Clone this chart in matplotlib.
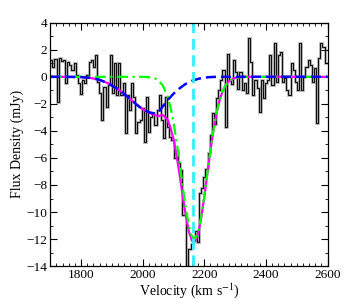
import numpy as np
import matplotlib
matplotlib.use('Agg')
import matplotlib.pyplot as plt
from matplotlib.ticker import MultipleLocator

plt.rcParams['font.family'] = 'Liberation Serif'
plt.rcParams['mathtext.fontset'] = 'stix'

# spectrum: channel flux (mJy), uniform channels starting at 1700 km/s
v_start = 1700.0
dv = 6.9
flux = [
    1.24, 0.75, 1.29, -1.88, 1.37, 1.17, 1.24, -0.43, 1.12, 0.87,
    0.50, 1.0, 0.13, -0.43, -1.3, -0.24, -0.48, 0.13, 1.12, 1.24,
    0.75, 1.61, -0.36, -1.22, -3.2, -0.73, -2.2, -0.6, 1.61, -1.22,
    1.0, -1.35, 1.0, -1.35, -0.48, -4.13, -1.35, -2.45, -0.48, -1.47,
    -4.18, -3.32, -3.2, -2.33, -4.8, -1.47, -4.06, -2.95, -2.7, -3.57,
    -2.45, -1.35, -3.2, -4.55, -1.47, -3.69, -4.43,
    -4.7, -6.0, -5.5, -6.4, -6.9, -10.2, -10.2, -14.5, -12.7, -12.4,
    -12.0, -11.4, -12.2, -8.6, -8.2, -7.4, -6.8, -5.6, -4.3, -2.7,
    -3.5, -1.6, -1.0, -0.25, 0.5,
    -3.7, 1.7, -0.25, -0.5, 1.25, 0.38, -0.92, 0.38, -0.97, -0.48,
    -1.2, 2.85, 1.1, -1.35, -0.24, -0.85, -2.6, -0.24, -1.6, -0.48,
    -0.24, 1.6, -0.6, 2.5, -0.36, 1.6, 1.85, -0.36, -0.12, -0.97,
    -1.35, 1.0, 0.5, -0.36, -0.97, 2.5, -0.97, 0.0, 0.75, 1.24,
    0.87, -0.36, 0.62, -3.4, 1.4, 2.5, 2.2, 1.0, 1.0,
]

# fitted components
model_v = [1700, 1750, 1800, 1830, 1860, 1890, 1920, 1950, 1980, 2000,
           2020, 2040, 2050, 2065, 2080, 2090, 2100, 2110, 2120, 2130,
           2140, 2150, 2160, 2170, 2180, 2190, 2200, 2210, 2220, 2230,
           2240, 2250, 2260, 2270, 2280, 2300, 2320, 2350, 2400, 2500, 2600]
broad = [0, 0, -0.02, -0.08, -0.22, -0.5, -0.92, -1.45, -2.05, -2.4,
         -2.62, -2.72, -2.65, -2.2, -1.75, -1.5, -1.25, -1.05, -0.85, -0.68,
         -0.52, -0.4, -0.3, -0.22, -0.15, -0.1, -0.06, -0.04, -0.02, -0.01,
         0, 0, 0, 0, 0, 0, 0, 0, 0, 0, 0]
narrow = [0, 0, 0, 0, 0, 0, 0, 0, 0, 0,
          -0.03, -0.12, -0.25, -0.63, -1.4, -2.24, -3.36, -4.78, -6.42, -8.14,
          -9.76, -11.06, -11.83, -11.97, -11.44, -10.33, -8.81, -7.1, -5.41, -3.9,
          -2.65, -1.7, -1.03, -0.59, -0.32, -0.08, -0.01, 0, 0, 0, 0]
total = [0, 0, -0.02, -0.08, -0.22, -0.5, -0.92, -1.45, -2.05, -2.4,
         -2.65, -2.84, -2.9, -2.83, -3.15, -3.74, -4.61, -5.83, -7.27, -8.82,
         -10.28, -11.46, -12.13, -12.19, -11.59, -10.43, -8.87, -7.14, -5.43, -3.91,
         -2.65, -1.7, -1.03, -0.59, -0.32, -0.08, -0.01, 0, 0, 0, 0]
v_sys = 2163

edges = v_start + dv * np.arange(len(flux) + 1)

fig = plt.figure(figsize=(3.64, 2.99), dpi=100)
ax = fig.add_axes([0.138, 0.110, 0.762, 0.814])

ax.stairs(flux, edges, baseline=None, color='0.62', lw=1.8)
ax.stairs(flux, edges, baseline=None, color='k', lw=0.65)
ax.plot(model_v, total, color='magenta', lw=1.6)
ax.plot(model_v, narrow, color='lime', lw=1.6, ls=(0, (5, 2, 1, 2)))
ax.plot(model_v, broad, color='blue', lw=1.8, ls=(0, (4, 2)))
ax.axvline(v_sys, color='#33f0ff', lw=2.0, ls=(0, (4, 2)))

ax.set_xlim(1700, 2600)
ax.set_ylim(-14, 4)
ax.xaxis.set_major_locator(MultipleLocator(200))
ax.xaxis.set_minor_locator(MultipleLocator(20))
ax.yaxis.set_major_locator(MultipleLocator(2))
ax.yaxis.set_minor_locator(MultipleLocator(1))
ax.tick_params(which='both', direction='in', top=True, right=True,
               labelsize=9.5, pad=2)
ax.tick_params(which='major', length=5)
ax.tick_params(which='minor', length=2.5)
for s in ax.spines.values():
    s.set_linewidth(0.9)

ax.set_xlabel('Velocity (km s$^{-1}$)', fontsize=10, labelpad=0)
ax.set_ylabel('Flux Density (mJy)', fontsize=10, labelpad=2)

fig.savefig('out.png', dpi=100)
